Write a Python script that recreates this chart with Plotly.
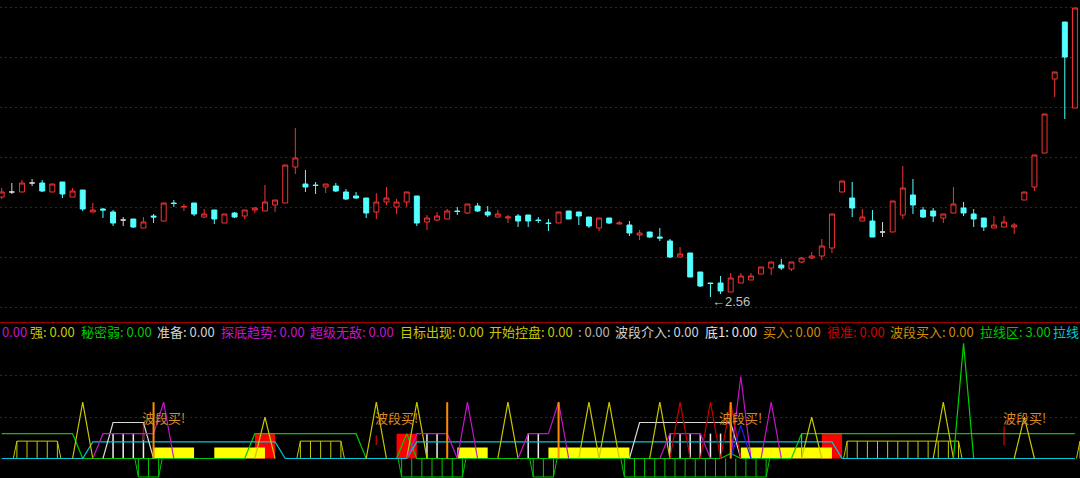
import plotly.graph_objects as go

# ---------------- daily candles (price) ----------------
opens = [2.960, 2.980, 2.980, 3.016, 3.016, 2.980, 3.020, 2.960, 2.988, 2.900,
         2.912, 2.900, 2.868, 2.872, 2.836, 2.884, 2.864, 2.936, 2.920, 2.936,
         2.880, 2.908, 2.856, 2.896, 2.884, 2.908, 2.904, 2.928, 2.936, 3.080,
         3.012, 3.008, 3.000, 3.004, 2.980, 2.964, 2.956, 2.900, 2.940, 2.920,
         2.940, 2.964, 2.860, 2.868, 2.872, 2.904, 2.896, 2.924, 2.900, 2.880,
         2.876, 2.884, 2.888, 2.868, 2.856, 2.856, 2.904, 2.900, 2.880, 2.836,
         2.876, 2.852, 2.848, 2.808, 2.820, 2.800, 2.784, 2.720, 2.736, 2.660,
         2.616, 2.616, 2.580, 2.616, 2.628, 2.652, 2.676, 2.688, 2.672, 2.700,
         2.716, 2.724, 2.756, 2.980, 2.956, 2.864, 2.864, 2.820, 2.820, 2.888,
         2.968, 2.908, 2.904, 2.876, 2.896, 2.916, 2.892, 2.876, 2.836, 2.840,
         2.840, 2.948, 3.000, 3.136, 3.432, 3.660, 3.316]
highs = [2.996, 3.016, 3.028, 3.032, 3.028, 3.012, 3.020, 2.996, 2.988, 2.936,
         2.916, 2.908, 2.880, 2.872, 2.880, 2.892, 2.936, 2.948, 2.932, 2.936,
         2.912, 2.908, 2.892, 2.900, 2.908, 2.920, 3.008, 2.948, 3.088, 3.236,
         3.068, 3.020, 3.012, 3.016, 2.992, 2.980, 2.956, 2.976, 3.000, 2.952,
         2.980, 2.964, 2.888, 2.900, 2.912, 2.920, 2.932, 2.936, 2.924, 2.908,
         2.888, 2.892, 2.888, 2.880, 2.872, 2.900, 2.904, 2.900, 2.880, 2.876,
         2.876, 2.864, 2.864, 2.828, 2.820, 2.836, 2.792, 2.760, 2.736, 2.660,
         2.616, 2.644, 2.656, 2.656, 2.656, 2.680, 2.700, 2.712, 2.700, 2.720,
         2.740, 2.792, 2.892, 3.024, 3.020, 2.912, 2.908, 2.860, 2.944, 3.084,
         3.032, 2.920, 2.916, 2.892, 3.000, 2.940, 2.912, 2.876, 2.884, 2.884,
         2.856, 2.980, 3.128, 3.292, 3.460, 3.660, 3.716]
lows = [2.952, 2.972, 2.980, 3.004, 2.980, 2.980, 2.956, 2.960, 2.904, 2.900,
        2.876, 2.844, 2.844, 2.836, 2.836, 2.856, 2.864, 2.920, 2.904, 2.884,
        2.876, 2.852, 2.856, 2.876, 2.872, 2.896, 2.904, 2.900, 2.936, 3.052,
        2.980, 2.972, 2.976, 2.980, 2.948, 2.952, 2.876, 2.872, 2.928, 2.892,
        2.920, 2.844, 2.828, 2.864, 2.872, 2.888, 2.892, 2.900, 2.880, 2.876,
        2.856, 2.840, 2.840, 2.856, 2.824, 2.856, 2.872, 2.848, 2.836, 2.824,
        2.852, 2.852, 2.804, 2.788, 2.796, 2.784, 2.716, 2.720, 2.640, 2.600,
        2.560, 2.572, 2.580, 2.616, 2.628, 2.652, 2.648, 2.668, 2.664, 2.696,
        2.712, 2.708, 2.736, 2.980, 2.880, 2.864, 2.800, 2.800, 2.820, 2.872,
        2.892, 2.876, 2.860, 2.856, 2.896, 2.884, 2.840, 2.824, 2.836, 2.840,
        2.812, 2.948, 2.984, 3.136, 3.360, 3.272, 3.316]
closes = [2.980, 2.980, 3.016, 3.016, 2.984, 3.012, 2.972, 2.984, 2.912, 2.908,
          2.908, 2.856, 2.868, 2.840, 2.860, 2.880, 2.936, 2.934, 2.922, 2.892,
          2.892, 2.872, 2.892, 2.880, 2.908, 2.916, 2.940, 2.948, 3.088, 3.116,
          3.000, 3.006, 3.012, 2.984, 2.952, 2.956, 2.896, 2.940, 2.956, 2.940,
          2.980, 2.856, 2.876, 2.884, 2.904, 2.902, 2.932, 2.904, 2.888, 2.892,
          2.880, 2.864, 2.864, 2.866, 2.854, 2.900, 2.872, 2.884, 2.844, 2.876,
          2.856, 2.856, 2.816, 2.816, 2.800, 2.796, 2.720, 2.732, 2.640, 2.604,
          2.614, 2.584, 2.636, 2.644, 2.644, 2.680, 2.700, 2.676, 2.700, 2.716,
          2.724, 2.764, 2.892, 3.024, 2.916, 2.880, 2.800, 2.820, 2.944, 2.996,
          2.928, 2.880, 2.884, 2.892, 2.932, 2.896, 2.872, 2.840, 2.848, 2.860,
          2.848, 2.980, 3.128, 3.292, 3.460, 3.520, 3.716]
price_grid = [2.52, 2.72, 2.92, 3.12, 3.32, 3.52, 3.72]
low_label = "←2.56"

# ---------------- indicator panel values ----------------
green_level = 3.0
green_on = [(0, 7), (25, 35), (40, 40), (79, 106)]
green_small = {72: 0.6}
cyan_level = 2.0
cyan_on = [(9, 27), (41, 82)]
cyan_marks = [79]
white_level = 4.35
white_on = [(11, 14), (63, 72)]
white_sticks = [11, 12, 13, 14, 42, 43, 52, 53, 66, 67, 68, 69, 70, 71]
stick_top = 3.0
magenta_vals = {10: 3, 11: 3, 12: 3, 13: 3, 14: 3, 15: 3, 16: 6.8,
                41: 3, 42: 3, 43: 3, 44: 3, 46: 6.8,
                52: 3, 53: 3, 54: 3, 55: 6.8,
                66: 3, 67: 3, 68: 3, 69: 3, 73: 9.9, 76: 6.8}
yellow_spikes = {8: 6.8, 26: 5.0, 37: 6.8, 41: 6.8, 50: 6.8, 58: 6.8,
                 60: 6.8, 65: 6.8, 80: 5.0, 93: 6.8, 101: 5.0}
red_spikes = {67: 6.8, 70: 6.8, 72: 6.8}
blue_spikes = {73: 4.0}
green_spikes = {95: 13.9}
orange_sticks = [15, 44, 55, 72]
orange_top = 6.8
red_mark_bars = [14, 37, 99]
red_mark_low = [2.2, 1.6, 1.6]
red_mark_high = [4.4, 2.8, 3.9]
yellow_blocks = [(15, 19), (21, 26), (45, 48), (54, 62), (73, 82)]
yellow_block_h = 1.33
red_blocks = [(25, 27), (39, 41), (81, 83)]
red_block_h = 3.0
yellow_hatch = [(2, 5), (30, 33), (84, 94), (107, 107)]
yellow_hatch_h = 2.1
green_hatch = [(14, 15), (40, 45), (53, 54), (62, 75)]
green_hatch_h = -2.23
signal_bars = [16, 39, 73, 101]
signal_level = 5.0
signal_text = "波段买!"
sub_grid = [5, 10]

legend_names = [None, "强", "秘密弱", "准备", "探底趋势", "超级无敌", "目标出现", "开始控盘",
                "", "波段介入", "底1", "买入", "很准", "波段买入", "拉线区", "拉线"]
legend_values = [0, 0, 0, 0, 0, 0, 0, 0, 0, 0, 0, 0, 0, 0, 3, None]
legend_colors = ["#c814c8", "#c8c800", "#00c800", "#d2d2d2", "#c814c8", "#c814c8",
                 "#c8c800", "#c8c800", "#b4b4b4", "#d2d2d2", "#e6e6e6", "#d28c00",
                 "#d20000", "#d28c00", "#00c800", "#00c8dc"]
legend_px = [0, 27.5, 79, 155, 219, 308, 398, 486.5, 576, 613, 703, 761, 825, 888, 978, 1051]

# ---------------- figure ----------------
W, H = 1080, 478
N = len(opens)
days = list(range(N))
XR = [-0.168, 106.5]
UP, DOWN, DOJI = "#f53232", "#54ffff", "#d6d6d6"
GRID = "#8c0000"
SEP_Y = 322  # separator pixel row

fig = go.Figure()

normal = [i for i in days if opens[i] != closes[i]]
doji = [i for i in days if opens[i] == closes[i]]
fig.add_trace(go.Candlestick(
    x=normal, open=[opens[i] for i in normal], high=[highs[i] for i in normal],
    low=[lows[i] for i in normal], close=[closes[i] for i in normal],
    increasing=dict(line=dict(color=UP, width=1), fillcolor="#000000"),
    decreasing=dict(line=dict(color=DOWN, width=1), fillcolor=DOWN),
    xaxis="x", yaxis="y", hoverinfo="skip"))
fig.add_trace(go.Candlestick(
    x=doji, open=[opens[i] for i in doji], high=[highs[i] for i in doji],
    low=[lows[i] for i in doji], close=[closes[i] for i in doji],
    increasing=dict(line=dict(color=DOJI, width=1), fillcolor=DOJI),
    decreasing=dict(line=dict(color=DOJI, width=1), fillcolor=DOJI),
    xaxis="x", yaxis="y", hoverinfo="skip"))


def runs_series(runs, level):
    s = [0.0] * N
    for a, b in runs:
        for i in range(a, b + 1):
            s[i] = level
    return s


def dict_series(d):
    s = [0.0] * N
    for k, v in d.items():
        s[k] = v
    return s


def nonzero_segments(vals):
    xs, ys = [], []
    i = 0
    while i < N:
        if vals[i] != 0:
            j = i
            while j + 1 < N and vals[j + 1] != 0:
                j += 1
            seg = list(range(max(i - 1, 0), min(j + 1, N - 1) + 1))
            xs += seg + [None]
            ys += [vals[k] for k in seg] + [None]
            i = j + 1
        else:
            i += 1
    return xs, ys


def blocks_xy(ranges, h):
    xs, ys = [], []
    for a, b in ranges:
        xs += [a, a, b, b, a, None]
        ys += [0, h, h, 0, 0, None]
    return xs, ys


def hatch_xy(ranges, h, slant=0.35):
    xs, ys = [], []
    for a, b in ranges:
        l, r = a - 0.5, b + 0.5
        xs += [l - slant, l, r, r + slant, None]
        ys += [0, h, h, 0, None]
        e = l
        while e <= r + 1e-9:
            xs += [e, e, None]
            ys += [0, h, None]
            e += 1
    return xs, ys


def sticks_xy(bars, lo, hi):
    xs, ys = [], []
    for k, b in enumerate(bars):
        l = lo[k] if isinstance(lo, list) else lo
        t = hi[k] if isinstance(hi, list) else hi
        xs += [b, b, None]
        ys += [l, t, None]
    return xs, ys


def add_line(xs, ys, color, width=1.2, fill=None):
    kw = dict(x=xs, y=ys, mode="lines", line=dict(color=color, width=width),
              xaxis="x2", yaxis="y2", hoverinfo="skip", connectgaps=False)
    if fill:
        kw.update(fill="toself", fillcolor=fill, line=dict(color=fill, width=0))
    fig.add_trace(go.Scatter(**kw))


add_line(*blocks_xy(red_blocks, red_block_h), "#ff0000", fill="#ff0000")
add_line(*blocks_xy(yellow_blocks, yellow_block_h), "#ffff00", fill="#ffff00")
add_line(*hatch_xy(yellow_hatch, yellow_hatch_h), "#c8c800", 1)
add_line(*hatch_xy(green_hatch, green_hatch_h), "#00c800", 1)
add_line(*sticks_xy(white_sticks, 0, stick_top), "#f0f0f0", 1.5)
add_line(*sticks_xy(red_mark_bars, red_mark_low, red_mark_high), "#b40000", 1.5)

green = runs_series(green_on, green_level)
for k, v in green_small.items():
    green[k] = v
add_line(days, green, "#00c800")
add_line(days, runs_series(cyan_on, cyan_level), "#00c8dc")
add_line(*sticks_xy(cyan_marks, 0, green_level), "#00c8dc")

add_line(*nonzero_segments(dict_series(yellow_spikes)), "#c8c800")
add_line(*nonzero_segments(dict_series(green_spikes)), "#00d200")
add_line(*nonzero_segments(runs_series(white_on, white_level)), "#d8d8d8")
add_line(*nonzero_segments(dict_series(magenta_vals)), "#c814c8")
add_line(*nonzero_segments(dict_series(red_spikes)), "#c80000")
add_line(*nonzero_segments(dict_series(blue_spikes)), "#1e1eff")
add_line(*sticks_xy(orange_sticks, 0, orange_top), "#ff8c00", 2)

annotations = []
for b in signal_bars:
    annotations.append(dict(x=b, y=signal_level, xref="x2", yref="y2", text=signal_text,
                            showarrow=False, xanchor="center", yanchor="middle",
                            font=dict(size=13, color="#d98c2a", family="Noto Sans CJK SC")))

low_i = lows.index(min(lows))
annotations.append(dict(x=low_i, y=lows[low_i], xref="x", yref="y", text=low_label,
                        showarrow=False, xanchor="left", yanchor="middle", yshift=-4,
                        font=dict(size=13, color="#c0c0c0", family="Liberation Sans, DejaVu Sans")))

leg_y = 1 - 331 / H
for name, val, col, px in zip(legend_names, legend_values, legend_colors, legend_px):
    if name is None:
        txt = f"{val:.2f}"
    elif val is None:
        txt = name
    else:
        txt = f"{name}: {val:.2f}"
    annotations.append(dict(x=px / W, y=leg_y, xref="paper", yref="paper", text=txt,
                            showarrow=False, xanchor="left", yanchor="middle",
                            font=dict(size=13, color=col, family="Noto Sans CJK SC")))

# axis ranges so that the panels line up with the picture
main_lo = 2.46
main_hi = 3.748
sub_unit_px = 8.28
sub_base_px = 458.5
sub_top_px = SEP_Y + 1

fig.update_layout(
    width=W, height=H, margin=dict(l=0, r=0, t=0, b=0),
    paper_bgcolor="#000000", plot_bgcolor="#000000",
    showlegend=False, hovermode=False,
    xaxis=dict(domain=[0, 1], range=XR, visible=False, anchor="y",
               rangeslider=dict(visible=False)),
    xaxis2=dict(domain=[0, 1], range=XR, visible=False, anchor="y2"),
    yaxis=dict(domain=[1 - SEP_Y / H, 1], range=[main_lo, main_hi],
               tickvals=price_grid, showticklabels=False, ticks="",
               showgrid=True, gridcolor=GRID, gridwidth=1, griddash="2px,3px",
               zeroline=False, showline=False),
    yaxis2=dict(domain=[0, 1 - sub_top_px / H],
                range=[(sub_base_px - H) / sub_unit_px, (sub_base_px - sub_top_px) / sub_unit_px],
                tickvals=sub_grid, showticklabels=False, ticks="",
                showgrid=True, gridcolor=GRID, gridwidth=1, griddash="2px,3px",
                zeroline=False, showline=False),
    shapes=[dict(type="line", xref="paper", yref="paper", x0=0, x1=1,
                 y0=1 - (SEP_Y + 0.5) / H, y1=1 - (SEP_Y + 0.5) / H,
                 line=dict(color="#a00000", width=1))],
    annotations=annotations,
)

fig.write_html("out.html", config={"displayModeBar": False},
               post_script="document.body.style.margin='0';document.body.style.overflow='hidden';")
